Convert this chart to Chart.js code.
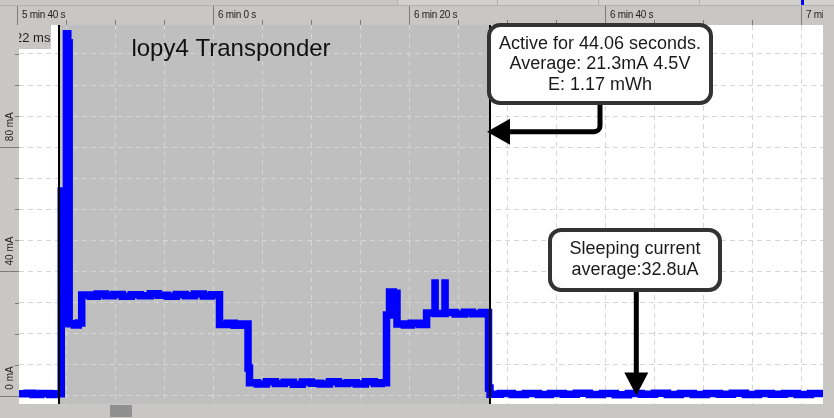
<!DOCTYPE html>
<html>
<head>
<meta charset="utf-8">
<script src="https://cdn.jsdelivr.net/npm/chart.js@4.4.0/dist/chart.umd.min.js"></script>
<style>
  html, body { margin: 0; padding: 0; background: #c8c7c3; }
  canvas { display: block; }
</style>
</head>
<body>
<canvas id="trace" width="834" height="418"></canvas>
<script>
// current trace, sample-and-hold: each value holds until the next time
const timeS = [
  340.17, 341.0, 341.6, 342.4, 343.3, 343.8,
  344.48, 344.53, 345.01, 345.15, 345.29, 345.82, 346.22,
  346.57, 347.45, 348.16, 348.98, 349.80, 350.71, 351.63, 352.55, 353.57,
  354.39, 355.31, 356.22, 357.14, 358.06, 358.98, 359.80,
  360.63, 361.43, 362.14, 362.86,
  363.54, 363.69, 364.49, 365.41, 366.33, 367.24, 368.16, 369.08, 370.00,
  370.92, 371.84, 372.76, 373.67, 374.59, 375.51, 376.43, 377.14,
  377.67, 377.98, 378.37, 378.74, 379.49, 380.20, 381.02,
  381.76, 382.62, 382.63, 383.64, 383.65, 384.69, 385.61, 386.43, 387.35,
  388.08, 388.23, 389.29, 390.51, 391.84, 393.16, 394.39, 395.71, 397.04,
  398.37, 399.69, 401.02, 402.35, 403.67, 405.00, 406.33, 407.65, 408.98,
  410.31, 411.63, 412.96, 414.29, 415.61, 416.94, 418.27, 419.59, 420.92, 422.21
];
const currentMa = [
  0.6, 0.8, 0.4, 0.7, 0.4, 0.6,
  65.9, 23.4, 116.5, 113.6, 23.2, 22.8, 23.4,
  32.4, 32.0, 32.7, 32.2, 32.6, 32.0, 32.5, 32.2, 32.8,
  32.3, 32.0, 32.6, 32.2, 32.7, 32.1, 32.5,
  22.9, 23.3, 22.7, 23.1,
  8.9, 4.2, 3.8, 4.5, 3.9, 4.3, 3.7, 4.4, 4.0,
  3.8, 4.5, 3.9, 4.2, 3.8, 4.5, 3.9, 4.2,
  26.0, 33.4, 33.0, 23.1, 22.8, 23.3, 22.9,
  26.6, 36.3, 26.5, 36.3, 26.8, 26.3, 26.9, 26.4, 26.8,
  2.5, 0.5, 0.7, 0.4, 0.7, 0.4, 0.7, 0.5, 0.8,
  0.4, 0.7, 0.3, 0.7, 0.5, 0.8, 0.4, 0.7, 0.4,
  0.7, 0.5, 0.8, 0.4, 0.7, 0.5, 0.7, 0.4, 0.7, 0.5
];

const selection = [344.29, 388.23];          // active window, seconds
const xGrid = [345, 350, 355, 360, 365, 370, 375, 380, 385, 390, 395, 400, 405, 410, 415, 420];
const yGrid = [0, 10, 20, 30, 40, 50, 60, 70, 80, 90, 100, 110];
const topTicks = [340, 360, 380, 400, 420];
const topLabels = ['5 min 40 s', '6 min 0 s', '6 min 20 s', '6 min 40 s', '7 min 0 s'];
const yMajor = [0, 40, 80];
const yLabels = ['0 mA', '40 mA', '80 mA'];

const chartTitle = 'lopy4 Transponder';
const zoomLabel = '22 ms';
const activeNote = ['Active for 44.06 seconds.', 'Average: 21.3mA 4.5V', 'E: 1.17 mWh'];
const sleepNote = ['Sleeping current', 'average:32.8uA'];
const activeArrowAt = [388.23, 85.0];        // time, mA
const sleepArrowAt = [403.16, 0.1];

const FONT = '"Liberation Sans", Arial, sans-serif';

const backdrop = {
  id: 'backdrop',
  beforeDraw(chart) {
    const { ctx, chartArea: a, scales: { x } } = chart;
    ctx.save();
    ctx.fillStyle = '#c8c7c3';
    ctx.fillRect(0, 0, chart.width, chart.height);
    // strip above the time axis
    ctx.fillStyle = '#d2d1cd';
    ctx.fillRect(397, 0, chart.width - 397, 5);
    ctx.fillStyle = '#b3b2ae';
    ctx.fillRect(0, 5, chart.width, 1);
    [397, 497, 598, 699].forEach(px => ctx.fillRect(px, 0, 1, 5));
    ctx.fillStyle = '#ffffff';
    ctx.fillRect(a.left, a.top, a.right - a.left, a.bottom - a.top);
    const s0 = x.getPixelForValue(selection[0]);
    const s1 = x.getPixelForValue(selection[1]);
    ctx.fillStyle = '#bfbfbf';
    ctx.fillRect(s0, a.top, s1 - s0, a.bottom - a.top);
    ctx.restore();
  }
};

function roundBox(ctx, l, t, r, b, rad) {
  ctx.beginPath();
  ctx.moveTo(l + rad, t);
  ctx.arcTo(r, t, r, b, rad);
  ctx.arcTo(r, b, l, b, rad);
  ctx.arcTo(l, b, l, t, rad);
  ctx.arcTo(l, t, r, t, rad);
  ctx.closePath();
}

function note(ctx, l, t, r, b, lines, firstY, gap) {
  roundBox(ctx, l, t, r, b, 11);
  ctx.fillStyle = '#ffffff';
  ctx.fill();
  ctx.lineWidth = 4;
  ctx.strokeStyle = '#333333';
  ctx.stroke();
  ctx.fillStyle = '#1a1a1a';
  ctx.font = '18px ' + FONT;
  ctx.textAlign = 'center';
  ctx.textBaseline = 'middle';
  lines.forEach((s, i) => ctx.fillText(s, (l + r) / 2, firstY + i * gap));
}

const overlay = {
  id: 'overlay',
  afterDraw(chart) {
    const { ctx, chartArea: a, scales: { x, y } } = chart;
    ctx.save();

    // selection edges
    ctx.fillStyle = '#000000';
    selection.forEach(t => ctx.fillRect(Math.round(x.getPixelForValue(t)) - 1, a.top, 2, a.bottom - a.top));

    // time axis on top
    ctx.fillStyle = '#7d7c79';
    xGrid.concat([340]).forEach(t => {
      const px = Math.round(x.getPixelForValue(t));
      const major = topTicks.includes(t);
      ctx.fillRect(px, major ? 6 : 20, 1, major ? 19 : 5);
    });
    ctx.save();
    ctx.beginPath();
    ctx.rect(0, 6, a.right, 19);
    ctx.clip();
    ctx.fillStyle = '#1e1e1e';
    ctx.font = '10px ' + FONT;
    ctx.letterSpacing = '-0.3px';
    ctx.textAlign = 'left';
    ctx.textBaseline = 'middle';
    topTicks.forEach((t, i) => ctx.fillText(topLabels[i], Math.round(x.getPixelForValue(t)) + 5, 15.5));
    ctx.restore();
    ctx.fillStyle = '#0000ff';
    ctx.fillRect(Math.round(x.getPixelForValue(420)), 0, 3, 5);

    // current axis on the left
    ctx.fillStyle = '#7d7c79';
    yGrid.forEach(v => {
      const py = Math.round(y.getPixelForValue(v));
      const major = yMajor.includes(v);
      ctx.fillRect(major ? 0 : 15, py, major ? a.left : a.left - 15, 1);
    });
    ctx.fillStyle = '#1e1e1e';
    ctx.font = '10px ' + FONT;
    ctx.textAlign = 'left';
    ctx.textBaseline = 'middle';
    yMajor.forEach((v, i) => {
      ctx.save();
      ctx.translate(10, y.getPixelForValue(v) - 6);
      ctx.rotate(-Math.PI / 2);
      ctx.fillText(yLabels[i], 0, 0);
      ctx.restore();
    });

    // zoom readout box in the corner
    ctx.fillStyle = '#c8c7c3';
    ctx.fillRect(a.left, a.top, 32, 24);
    ctx.save();
    ctx.beginPath();
    ctx.rect(a.left, a.top, 32, 24);
    ctx.clip();
    ctx.fillStyle = '#1e1e1e';
    ctx.font = '13px ' + FONT;
    ctx.textAlign = 'left';
    ctx.textBaseline = 'middle';
    ctx.fillText(zoomLabel, a.left - 4, a.top + 13);
    ctx.restore();

    // scrollbar thumb under the plot
    ctx.fillStyle = '#8f8f8f';
    ctx.fillRect(110, a.bottom + 1, 22, 12);

    // title
    ctx.fillStyle = '#111111';
    ctx.font = '24px ' + FONT;
    ctx.textAlign = 'center';
    ctx.textBaseline = 'middle';
    ctx.fillText(chartTitle, 231, 49);

    // active-window arrow and note
    ctx.strokeStyle = '#000000';
    ctx.fillStyle = '#000000';
    ctx.lineWidth = 5;
    const ax = x.getPixelForValue(activeArrowAt[0]) - 3;
    const ay = y.getPixelForValue(activeArrowAt[1]);
    ctx.beginPath();
    ctx.moveTo(600, 100);
    ctx.lineTo(600, ay - 6);
    ctx.arcTo(600, ay, 594, ay, 6);
    ctx.lineTo(ax + 20, ay);
    ctx.stroke();
    ctx.beginPath();
    ctx.moveTo(ax, ay);
    ctx.lineTo(ax + 23, ay - 13);
    ctx.lineTo(ax + 23, ay + 13);
    ctx.closePath();
    ctx.fill();
    note(ctx, 489, 25, 711, 103, activeNote, 44, 20.5);

    // sleep arrow and note
    const sx = x.getPixelForValue(sleepArrowAt[0]);
    const sy = y.getPixelForValue(sleepArrowAt[1]);
    ctx.strokeStyle = '#000000';
    ctx.fillStyle = '#000000';
    ctx.lineWidth = 5;
    ctx.beginPath();
    ctx.moveTo(sx, 290);
    ctx.lineTo(sx, sy - 20);
    ctx.stroke();
    ctx.beginPath();
    ctx.moveTo(sx, sy);
    ctx.lineTo(sx - 12, sy - 23);
    ctx.lineTo(sx + 12, sy - 23);
    ctx.closePath();
    ctx.fill();
    note(ctx, 550, 230, 720, 290, sleepNote, 249, 21);

    ctx.restore();
  }
};

const points = timeS.map((t, i) => ({ x: t, y: currentMa[i] }));

new Chart(document.getElementById('trace'), {
  type: 'line',
  data: {
    datasets: [{
      data: points,
      borderColor: '#0000ff',
      borderWidth: 7.5,
      pointRadius: 0,
      stepped: true,
      fill: false,
      tension: 0
    }]
  },
  options: {
    responsive: false,
    animation: false,
    devicePixelRatio: 1,
    layout: { padding: { left: 19, top: 25, right: 11, bottom: 14 } },
    plugins: { legend: { display: false }, tooltip: { enabled: false } },
    scales: {
      x: {
        type: 'linear',
        position: 'top',
        min: 340.17,
        max: 422.21,
        afterBuildTicks: s => { s.ticks = xGrid.map(v => ({ value: v })); },
        ticks: { display: false },
        grid: { color: '#d6d6d6', drawTicks: false },
        border: { display: false, dash: [5, 4] }
      },
      y: {
        type: 'linear',
        min: -2.67,
        max: 119.33,
        afterBuildTicks: s => { s.ticks = yGrid.map(v => ({ value: v })); },
        ticks: { display: false },
        grid: { color: '#d6d6d6', drawTicks: false },
        border: { display: false, dash: [5, 4] }
      }
    }
  },
  plugins: [backdrop, overlay]
});
</script>
</body>
</html>
